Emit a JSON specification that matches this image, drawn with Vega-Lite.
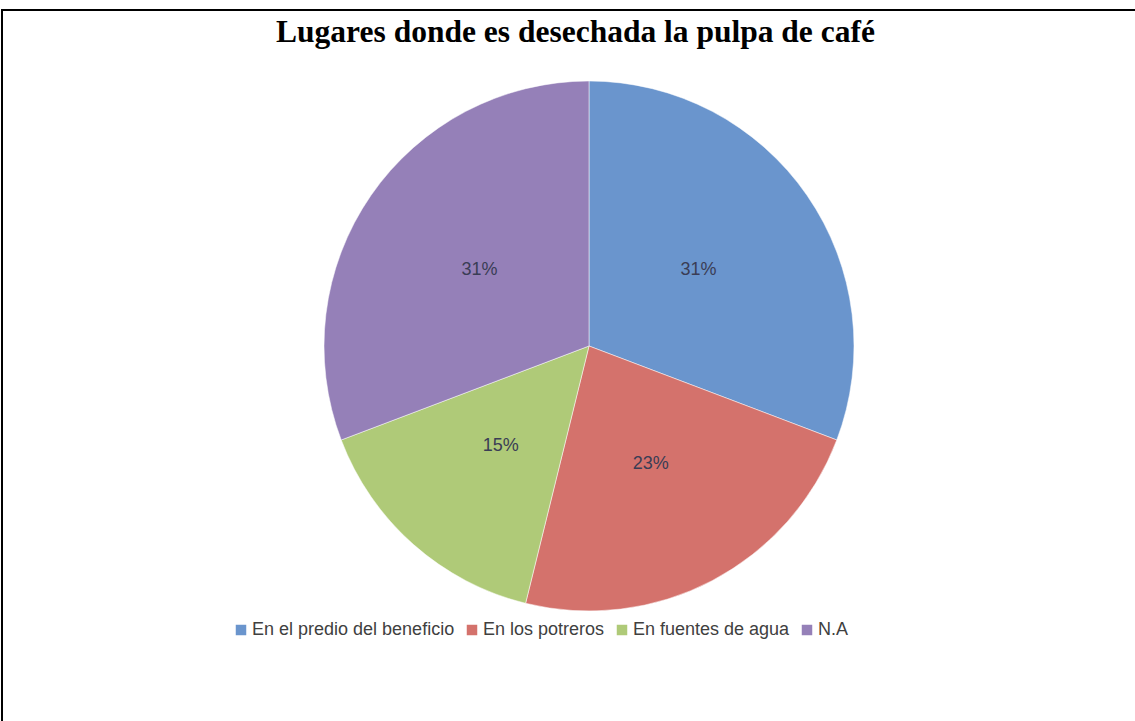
{
  "$schema": "https://vega.github.io/schema/vega-lite/v6.json",
  "width": 1135,
  "height": 721,
  "autosize": {"type": "fit", "contains": "padding"},
  "padding": {"left": 2, "top": 10, "right": -8, "bottom": -6},
  "background": "white",
  "view": {"stroke": "black", "strokeWidth": 2},
  "title": {
    "text": "Lugares donde es desechada la pulpa de café",
    "orient": "none",
    "font": "Liberation Serif",
    "fontSize": 31.5,
    "fontWeight": "bold",
    "color": "black",
    "anchor": "middle",
    "baseline": "alphabetic",
    "offset": 0,
    "dy": 32,
    "dx": 573.5
  },
  "data": {
    "values": [
      {"idx": 1, "lugar": "En el predio del beneficio", "n": 4, "pct": "31%"},
      {"idx": 2, "lugar": "En los potreros", "n": 3, "pct": "23%"},
      {"idx": 3, "lugar": "En fuentes de agua", "n": 2, "pct": "15%"},
      {"idx": 4, "lugar": "N.A", "n": 4, "pct": "31%"}
    ]
  },
  "encoding": {
    "theta": {"field": "n", "type": "quantitative", "stack": true},
    "order": {"field": "idx", "type": "quantitative"}
  },
  "layer": [
    {
      "mark": {"type": "arc", "outerRadius": 265, "x": {"expr": "width/2+16.5"}, "y": {"expr": "height/2-22.5"}, "stroke": "white", "strokeWidth": 0.5},
      "encoding": {
        "color": {
          "field": "lugar",
          "type": "nominal",
          "scale": {
            "domain": ["En el predio del beneficio", "En los potreros", "En fuentes de agua", "N.A"],
            "range": ["#6A95CD", "#D4726C", "#AFCA78", "#9580B8"]
          },
          "legend": {
            "title": null,
            "orient": "none",
            "direction": "horizontal",
            "legendX": 230,
            "legendY": 611,
            "symbolType": "square",
            "symbolSize": 110,
            "symbolStrokeWidth": 0,
            "labelFont": "Liberation Sans",
            "labelFontSize": 18,
            "labelColor": "#404040",
            "labelOffset": 2,
            "columnPadding": 8,
            "labelLimit": 400
          }
        }
      }
    },
    {
      "mark": {"type": "text", "radius": 133, "x": {"expr": "width/2+16.5"}, "y": {"expr": "height/2-22.5"}, "font": "Liberation Sans", "fontSize": 18, "color": "#3a3d55"},
      "encoding": {
        "detail": {"field": "lugar", "type": "nominal"},
        "text": {"field": "pct", "type": "nominal"}
      }
    }
  ]
}
